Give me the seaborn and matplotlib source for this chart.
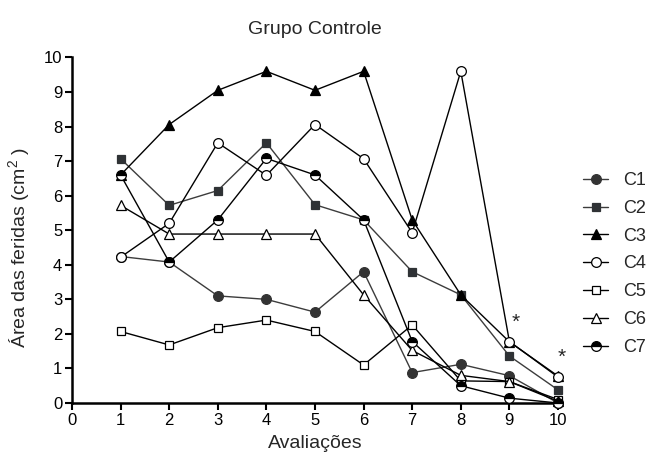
import numpy as np
import pandas as pd
import matplotlib
matplotlib.use("Agg")
import matplotlib.pyplot as plt
import seaborn as sns

# ---- data ----
avaliacoes = [1, 2, 3, 4, 5, 6, 7, 8, 9, 10]
C1 = [4.24, 4.08, 3.10, 3.00, 2.63, 3.80, 0.88, 1.12, 0.79, 0.00]
C2 = [7.07, 5.72, 6.15, 7.53, 5.74, 5.30, 3.80, 3.13, 1.36, 0.38]
C3 = [6.60, 8.06, 9.05, 9.60, 9.05, 9.60, 5.30, 3.13, 1.77, 0.78]
C4 = [4.22, 5.20, 7.53, 6.59, 8.06, 7.07, 4.93, 9.60, 1.78, 0.75]
C5 = [2.07, 1.68, 2.18, 2.40, 2.07, 1.10, 2.26, 0.64, 0.62, 0.10]
C6 = [5.72, 4.89, 4.89, 4.89, 4.89, 3.13, 1.52, 0.80, 0.62, 0.05]
C7 = [6.60, 4.08, 5.30, 7.08, 6.60, 5.30, 1.78, 0.50, 0.14, 0.00]
series_names = ["C1", "C2", "C3", "C4", "C5", "C6", "C7"]
series_values = [C1, C2, C3, C4, C5, C6, C7]
asterisk_x = [9.12, 10.07]
asterisk_y = [2.17, 1.16]
x_ticks = list(range(0, 11))
y_ticks = list(range(0, 11))

sns.set_style("ticks")
plt.rcParams["font.family"] = ["Liberation Sans", "DejaVu Sans"]
plt.rcParams["mathtext.fontset"] = "custom"
plt.rcParams["mathtext.rm"] = "Liberation Sans"
plt.rcParams["mathtext.it"] = "Liberation Sans"

fig = plt.figure(figsize=(6.49, 4.58), dpi=100)
ax = fig.add_axes([72 / 649, 1 - 403 / 458, 486 / 649, 345.5 / 458])

styles = {
    "C1": dict(marker="o", ms=7, mfc="#333333", mec="#333333", color="#3c3c3c"),
    "C2": dict(marker="s", ms=6.3, mfc="#2f3235", mec="#2f3235", color="#3c3c3c"),
    "C3": dict(marker="^", ms=7, mfc="black", mec="black", color="black"),
    "C4": dict(marker="o", ms=7, mfc="white", mec="black", color="black"),
    "C5": dict(marker="s", ms=6.3, mfc="white", mec="black", color="black"),
    "C6": dict(marker="^", ms=7, mfc="white", mec="black", color="black"),
    "C7": dict(marker="o", ms=7, mfc="black", mec="black", color="black",
               fillstyle="top", markerfacecoloralt="white"),
}

for name, vals in zip(series_names, series_values):
    df = pd.DataFrame({"x": avaliacoes, "y": vals})
    st = styles[name]
    sns.lineplot(data=df, x="x", y="y", ax=ax, label=name, lw=1.0,
                 markeredgewidth=0.9, clip_on=False, zorder=3, **st)

for xa, ya in zip(asterisk_x, asterisk_y):
    ax.text(xa, ya, "*", fontsize=15, ha="center", va="baseline")

ax.set_xlim(0, 10)
ax.set_ylim(0, 10)
ax.set_xticks(x_ticks)
ax.set_yticks(y_ticks)
ax.tick_params(axis="both", labelsize=12, width=1.5, length=5, direction="out",
               colors="black", pad=2)
for side in ["top", "right"]:
    ax.spines[side].set_visible(False)
for side in ["left", "bottom"]:
    ax.spines[side].set_linewidth(1.8)
    ax.spines[side].set_color("black")

ax.set_xlabel("Avaliações", fontsize=14, labelpad=5)
ax.set_ylabel("Área das feridas (cm$^2$ )", fontsize=14)
ax.yaxis.set_label_coords(-0.082, 0.45)

fig.text(315 / 649, 1 - 29 / 458, "Grupo Controle", fontsize=14,
         ha="center", va="center")

leg = ax.legend(loc="center left", bbox_to_anchor=(583 / 649, 1 - 264 / 458),
                bbox_transform=fig.transFigure, frameon=False, fontsize=13,
                handlelength=1.4, handletextpad=0.8, labelspacing=0.6,
                borderpad=0, borderaxespad=0)

fig.savefig("out.png", dpi=100)
